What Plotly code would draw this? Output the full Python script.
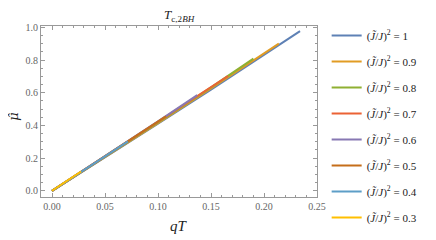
import plotly.graph_objects as go

ratios = ["1", "0.9", "0.8", "0.7", "0.6", "0.5", "0.4", "0.3"]
colors = ["#5E81B5", "#E19C24", "#8FB032", "#EB6235", "#8778B3", "#C56E1A", "#5D9EC7", "#FFBF00"]

qT_1 = [0.0, 0.05, 0.10, 0.15, 0.20, 0.234]
mu_1 = [0.0, 0.204, 0.410, 0.619, 0.831, 0.977]
qT_09 = [0.0, 0.05, 0.10, 0.15, 0.20, 0.214]
mu_09 = [0.0, 0.206, 0.414, 0.626, 0.840, 0.900]
qT_08 = [0.0, 0.05, 0.10, 0.15, 0.19]
mu_08 = [0.0, 0.208, 0.418, 0.633, 0.808]
qT_07 = [0.0, 0.05, 0.10, 0.15, 0.166]
mu_07 = [0.0, 0.210, 0.422, 0.634, 0.702]
qT_06 = [0.0, 0.05, 0.10, 0.137]
mu_06 = [0.0, 0.211, 0.425, 0.585]
qT_05 = [0.0, 0.05, 0.1075]
mu_05 = [0.0, 0.212, 0.455]
qT_04 = [0.0, 0.035, 0.0717]
mu_04 = [0.0, 0.146, 0.302]
qT_03 = [0.0, 0.0274]
mu_03 = [0.0, 0.118]

xs = [qT_1, qT_09, qT_08, qT_07, qT_06, qT_05, qT_04, qT_03]
ys = [mu_1, mu_09, mu_08, mu_07, mu_06, mu_05, mu_04, mu_03]

SERIF = "Liberation Serif, Times New Roman, DejaVu Serif, serif"

fig = go.Figure()
for i, (r, c, x, y) in enumerate(zip(ratios, colors, xs, ys)):
    fig.add_trace(go.Scatter(
        x=x, y=y, mode="lines", line=dict(color=c, width=2),
        name="(<i>J̃</i>/<i>J</i>)<sup>2</sup> = " + r,
        legendgroup=str(i),
    ))

axis_common = dict(
    showgrid=False, zeroline=False, showline=True, linecolor="#999999", linewidth=1,
    mirror="allticks", ticks="inside", ticklen=4, tickcolor="#999999",
    tickfont=dict(family=SERIF, size=10, color="#666666"), automargin=False,
)
fig.update_xaxes(range=[-0.0104, 0.25], dtick=0.05, tick0=0, tickformat=".2f",
                 minor=dict(dtick=0.01, ticklen=2, ticks="inside", tickcolor="#999999"),
                 **axis_common)
fig.update_yaxes(range=[-0.038, 1.008], dtick=0.2, tick0=0, tickformat=".1f",
                 minor=dict(dtick=0.05, ticklen=2, ticks="inside", tickcolor="#999999"),
                 **axis_common)

fig.add_annotation(text="<i>qT</i>", xref="paper", yref="paper", x=0.5, y=0,
                   yanchor="middle", yshift=-29, showarrow=False,
                   font=dict(family=SERIF, size=15, color="#222222"))
fig.add_annotation(text="<i>μ̂</i>", xref="paper", yref="paper", x=0, y=0.47,
                   xanchor="center", xshift=-27, textangle=-90, showarrow=False,
                   font=dict(family="DejaVu Serif", size=13, color="#222222"))

# page body has an 8px default margin, so the figure is drawn 8px smaller and offset
fig.update_layout(
    width=428, height=232,
    margin=dict(l=33, r=119, t=18, b=43),
    paper_bgcolor="white", plot_bgcolor="white",
    title=dict(text="<i>T</i><sub>c,2<i>BH</i></sub>", x=0.40, xanchor="center", y=0.99, yanchor="top",
               font=dict(family=SERIF, size=13, color="#222222")),
    legend=dict(x=1.035, xanchor="left", y=1.029, yanchor="top", tracegroupgap=7,
                font=dict(family=SERIF, size=11, color="#222222"),
                itemwidth=30, bgcolor="rgba(0,0,0,0)", maxheight=400),
    showlegend=True,
)
fig.write_html("out.html")
